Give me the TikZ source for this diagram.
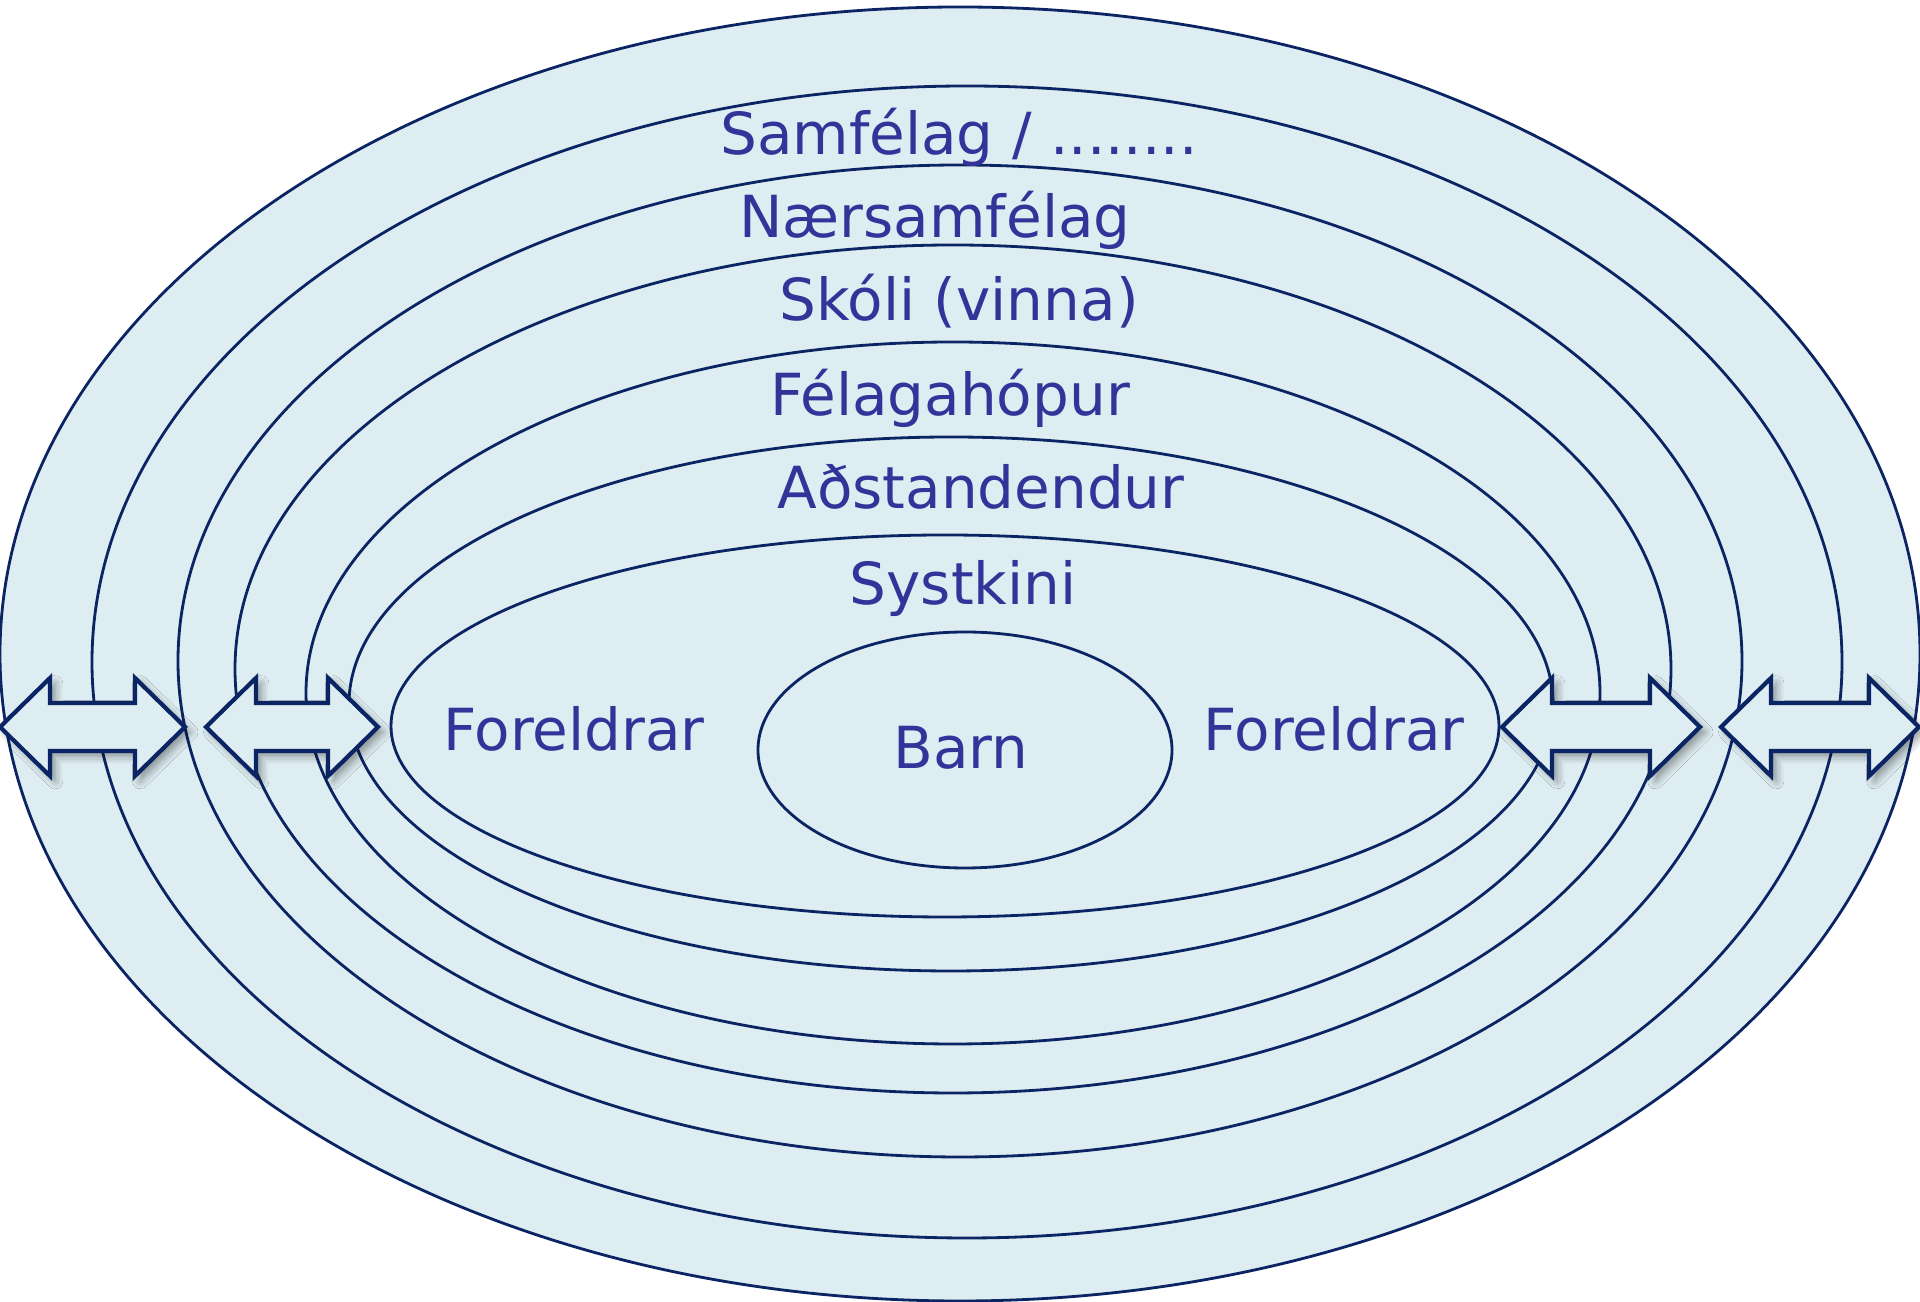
\documentclass[tikz,border=0pt]{standalone}
\usepackage{fontspec}
\setmainfont{DejaVu Sans}
\usetikzlibrary{shadows.blur}

\definecolor{ringfill}{HTML}{DEEDF1}
\definecolor{ringline}{HTML}{0B2463}
\definecolor{labeltext}{HTML}{333399}

\tikzset{
  ring/.style={draw=ringline, line width=0.8pt},
  arrowbox/.style={draw=ringline, fill=ringfill, line width=1.2pt,
    blur shadow={shadow xshift=1.5pt, shadow yshift=-1.5pt, shadow blur steps=6, shadow opacity=40}},
  layer/.style={text=labeltext, font=\fontsize{16.5}{20}\selectfont, anchor=base, inner sep=0pt}
}

\begin{document}
\begin{tikzpicture}[x=0.1mm, y=-0.1mm]
	% Parameters
	\def\headL{50}   % length of an arrow head
	\def\headH{49}   % half height of an arrow head
	\def\shaftH{24}  % half height of the shaft
	\def\midY{727}   % height of the arrows
	
	\useasboundingbox (0,0) rectangle (1920,1302);
	
	% Outer ellipse filled with color
	\fill[ringfill] (960,654) ellipse [x radius=960, y radius=647];
	
	% Draw the rings, outside in
	\foreach \cx/\cy/\rx/\ry in {960/654/960/647, 967/662/875/576, 960/661/782/496,
		953/669/718/424, 953/693/647/351, 951/704/602/267, 945/726/554/191, 965/750/207/118}
		\draw[ring] (\cx,\cy) ellipse [x radius=\rx, y radius=\ry];
	
	% Double arrows across the rings
	\foreach \xa/\xb in {0/185, 206/378, 1502/1700, 1721/1919}
		\draw[arrowbox] (\xa,\midY) -- (\xa+\headL,\midY-\headH) -- (\xa+\headL,\midY-\shaftH)
			-- (\xb-\headL,\midY-\shaftH) -- (\xb-\headL,\midY-\headH) -- (\xb,\midY)
			-- (\xb-\headL,\midY+\headH) -- (\xb-\headL,\midY+\shaftH)
			-- (\xa+\headL,\midY+\shaftH) -- (\xa+\headL,\midY+\headH) -- cycle;
	
	% Labels of the rings
	\node[layer] (samfelag) at (959,155) {Samfélag / ........};
	\node[layer] (naersamfelag) at (935,238) {Nærsamfélag};
	\node[layer] (skoli) at (959,321) {Skóli (vinna)};
	\node[layer] (felagahopur) at (950,416) {Félagahópur};
	\node[layer] (adstandendur) at (981,509) {Aðstandendur};
	\node[layer] (systkini) at (963,605) {Systkini};
	\node[layer] (foreldrarL) at (574,751) {Foreldrar};
	\node[layer] (foreldrarR) at (1334,751) {Foreldrar};
	\node[layer] (barn) at (961,769) {Barn};
	
\end{tikzpicture}
\end{document}
